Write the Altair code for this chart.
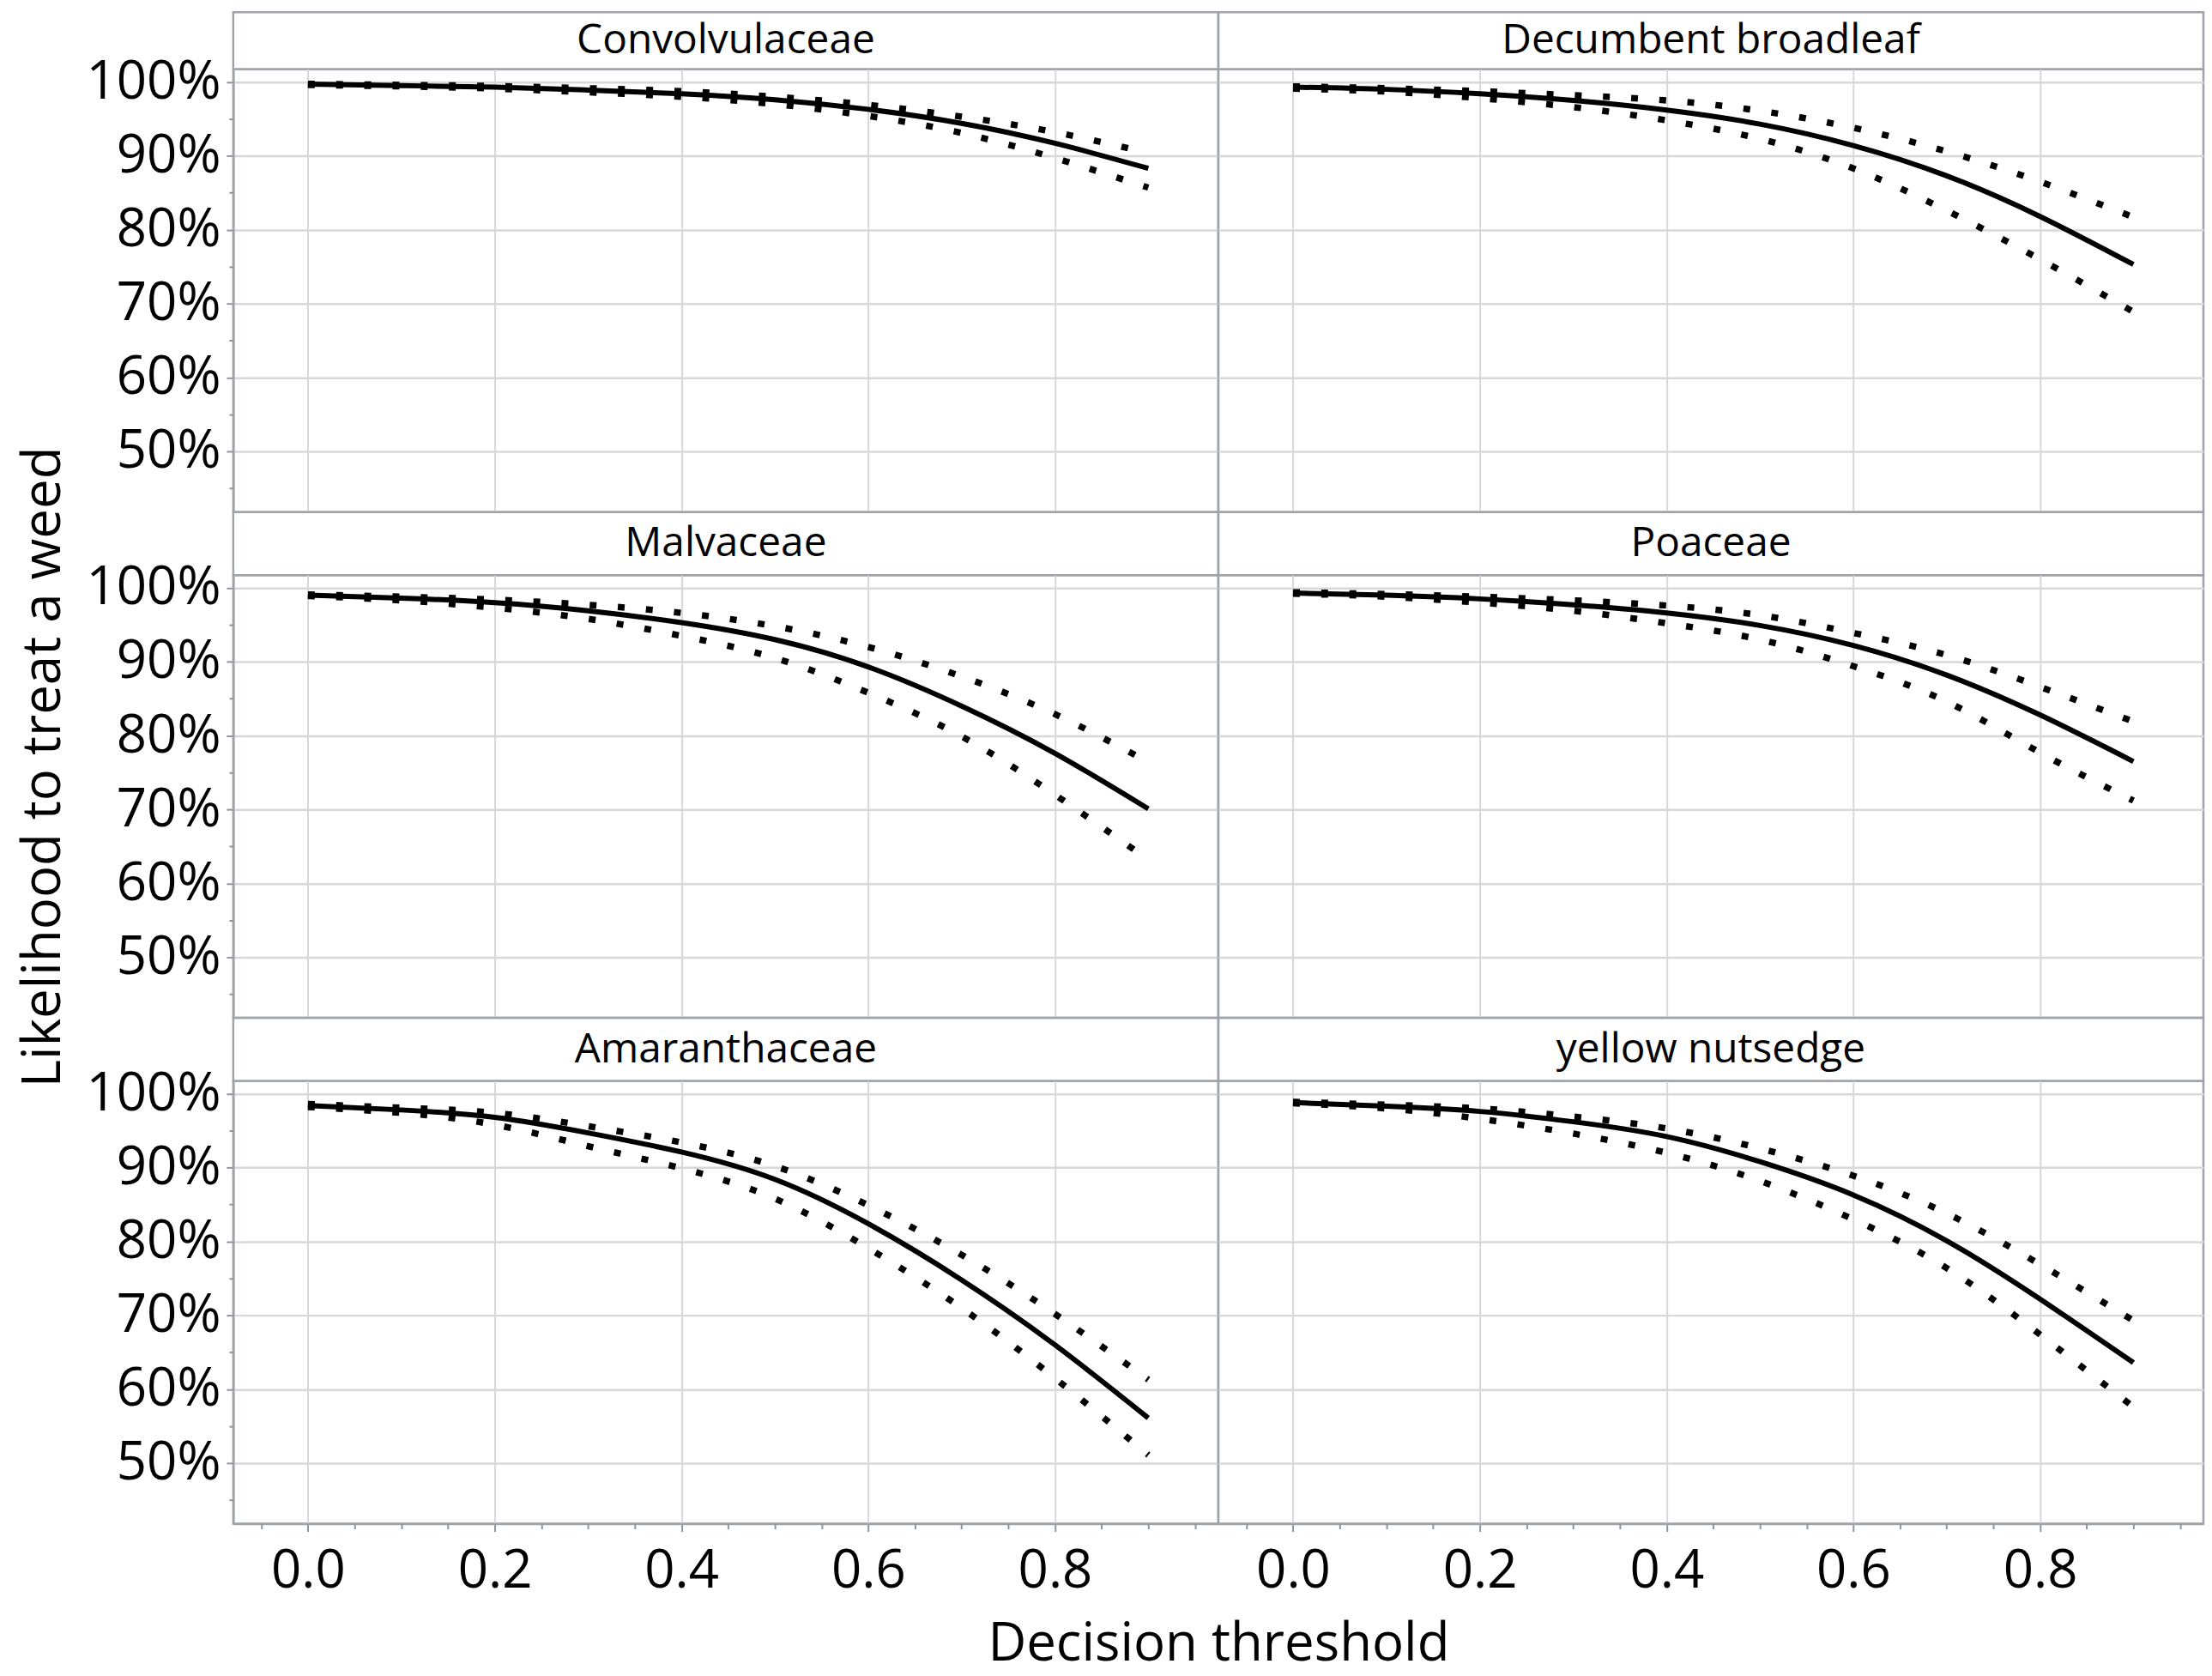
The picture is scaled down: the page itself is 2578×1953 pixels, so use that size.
import altair as alt
import pandas as pd

FONT = "Open Sans"

# ---- data (likelihood in %) ----
thresholds = [0.0, 0.1, 0.2, 0.3, 0.4, 0.5, 0.6, 0.7, 0.8, 0.9]
species = ["Convolvulaceae", "Decumbent broadleaf", "Malvaceae",
           "Poaceae", "Amaranthaceae", "yellow nutsedge"]

conv_mean = [99.7, 99.5, 99.3, 98.9, 98.4, 97.6, 96.3, 94.4, 91.7, 88.3]
conv_upper = [99.75, 99.6, 99.45, 99.15, 98.75, 98.0, 96.9, 95.3, 93.2, 90.4]
conv_lower = [99.6, 99.4, 99.1, 98.6, 98.0, 97.0, 95.4, 93.1, 89.7, 85.7]

decu_mean = [99.3, 99.0, 98.4, 97.5, 96.2, 94.3, 91.4, 87.3, 81.8, 75.3]
decu_upper = [99.4, 99.15, 98.75, 98.2, 97.5, 96.1, 93.8, 90.6, 86.5, 81.7]
decu_lower = [99.1, 98.7, 97.8, 96.6, 94.8, 92.3, 88.3, 82.6, 76.0, 68.9]

malv_mean = [99.0, 98.6, 98.0, 96.9, 95.3, 93.0, 89.3, 84.0, 77.6, 70.1]
malv_upper = [99.1, 98.8, 98.4, 97.7, 96.6, 94.8, 92.0, 88.0, 82.9, 76.4]
malv_lower = [98.9, 98.3, 97.3, 95.8, 93.5, 90.5, 85.8, 79.9, 72.0, 63.2]

poac_mean = [99.3, 99.0, 98.5, 97.7, 96.6, 94.9, 92.2, 88.2, 82.8, 76.5]
poac_upper = [99.4, 99.15, 98.8, 98.3, 97.6, 96.3, 93.9, 90.9, 86.6, 81.9]
poac_lower = [99.2, 98.8, 98.0, 96.9, 95.2, 93.0, 89.4, 84.6, 77.7, 71.2]

amar_mean = [98.4, 97.8, 96.8, 94.7, 92.1, 88.4, 82.4, 74.8, 66.0, 56.1]
amar_upper = [98.6, 98.1, 97.4, 95.6, 93.4, 90.2, 84.9, 78.2, 70.2, 61.3]
amar_lower = [98.2, 97.4, 95.8, 92.9, 89.9, 85.8, 79.1, 71.0, 61.5, 51.1]

yell_mean = [98.8, 98.3, 97.6, 96.2, 94.2, 90.8, 86.3, 80.1, 72.2, 63.6]
yell_upper = [98.9, 98.5, 98.0, 96.9, 95.3, 92.6, 88.9, 83.8, 76.9, 69.3]
yell_lower = [98.7, 98.0, 96.6, 94.6, 92.0, 88.2, 83.0, 76.4, 67.4, 57.6]

series = {
    "Convolvulaceae": (conv_mean, conv_lower, conv_upper),
    "Decumbent broadleaf": (decu_mean, decu_lower, decu_upper),
    "Malvaceae": (malv_mean, malv_lower, malv_upper),
    "Poaceae": (poac_mean, poac_lower, poac_upper),
    "Amaranthaceae": (amar_mean, amar_lower, amar_upper),
    "yellow nutsedge": (yell_mean, yell_lower, yell_upper),
}

major_x = [0.0, 0.2, 0.4, 0.6, 0.8]
minor_x = [-0.05, 0.05, 0.1, 0.15, 0.25, 0.3, 0.35, 0.45, 0.5, 0.55,
           0.65, 0.7, 0.75, 0.85, 0.9, 0.95]
major_y = [0.5, 0.6, 0.7, 0.8, 0.9, 1.0]
minor_y = [0.45, 0.55, 0.65, 0.75, 0.85, 0.95]

rows = []
for name in species:
    m, lo, up = series[name]
    for i, t in enumerate(thresholds):
        rows.append({"species": name, "threshold": t,
                     "mean": m[i] / 100, "lower": lo[i] / 100,
                     "upper": up[i] / 100})
df = pd.DataFrame(rows)

W = 1153
H = 518
HEADER_H = [67, 74, 74]

xscale = alt.Scale(domain=[-0.08, 0.975], nice=False, zero=False)
yscale = alt.Scale(domain=[0.418, 1.017], nice=False, zero=False)

GRID_COLOR = "#d8d8d8"
INTERP = "natural"


def plot_panel(name, row, col):
    bottom = row == 2
    left = col == 0
    base = alt.Chart(df).transform_filter(alt.datum.species == name)

    xkw = dict(values=major_x, format=".1f", grid=True, gridColor=GRID_COLOR,
               gridWidth=2, labels=bottom, ticks=bottom, domain=bottom,
               tickSize=9, tickWidth=2, labelPadding=16, orient="bottom",
               title=None)
    if bottom and left:
        xkw.update(title="Decision threshold", titleX=W, titleY=111)
    ykw = dict(values=major_y, format=".0%", grid=True, gridColor=GRID_COLOR,
               gridWidth=2.5, labels=left, ticks=left, domain=left,
               tickSize=8, tickWidth=2, labelPadding=7, orient="left",
               title=None)
    if left and row == 1:
        ykw.update(title="Likelihood to treat a weed", titleX=-190, titleY=224)

    line = base.mark_line(color="black", strokeWidth=6,
                          interpolate=INTERP).encode(
        x=alt.X("threshold:Q", scale=xscale, axis=alt.Axis(**xkw)),
        y=alt.Y("mean:Q", scale=yscale, axis=alt.Axis(**ykw)),
    )

    if bottom:
        x_minor = alt.Axis(values=minor_x, grid=False, labels=False,
                           ticks=True, tickSize=6, tickWidth=2, domain=False,
                           orient="bottom", title=None)
    else:
        x_minor = None
    if left:
        y_minor = alt.Axis(values=minor_y, grid=False, labels=False,
                           ticks=True, tickSize=5, tickWidth=2, domain=False,
                           orient="left", title=None)
    else:
        y_minor = None

    band = base.transform_fold(["upper", "lower"], as_=["band", "value"]).mark_line(
        color="black", strokeWidth=7.5, strokeDash=[8, 25],
        interpolate=INTERP).encode(
        x=alt.X("threshold:Q", scale=xscale, axis=x_minor),
        y=alt.Y("value:Q", scale=yscale, axis=y_minor),
        detail="band:N",
    )
    return alt.layer(line, band).resolve_axis(
        x="independent", y="independent").properties(width=W, height=H)


def header_panel(name, row):
    h = HEADER_H[row]
    return alt.Chart(pd.DataFrame({"label": [name]})).mark_text(
        font=FONT, fontSize=48, color="black", baseline="middle",
        align="center").encode(
        x=alt.value(W / 2), y=alt.value(h / 2 + 1), text="label:N"
    ).properties(width=W, height=h)


cells = []
for r in range(3):
    names = species[2 * r: 2 * r + 2]
    for c in range(2):
        cells.append(header_panel(names[c], r))
    for c in range(2):
        cells.append(plot_panel(names[c], r, c))

chart = alt.concat(*cells, columns=2, spacing=0, bounds="flush",
                   align="each").properties(
    padding={"left": 10, "top": 0, "right": 0, "bottom": 0}
).configure(
    font=FONT, background="white"
).configure_view(
    stroke="#9ea4aa", strokeWidth=2.5
).configure_axis(
    labelFont=FONT, titleFont=FONT, labelFontSize=62, titleFontSize=62,
    labelColor="black", titleColor="black", titleFontWeight="normal",
    tickColor="#8d949a", domainColor="#9ea4aa", domainWidth=2.5,
    labelFlush=False, labelOverlap=False
)

chart.save("out.html", embed_options={"renderer": "svg", "actions": False})
